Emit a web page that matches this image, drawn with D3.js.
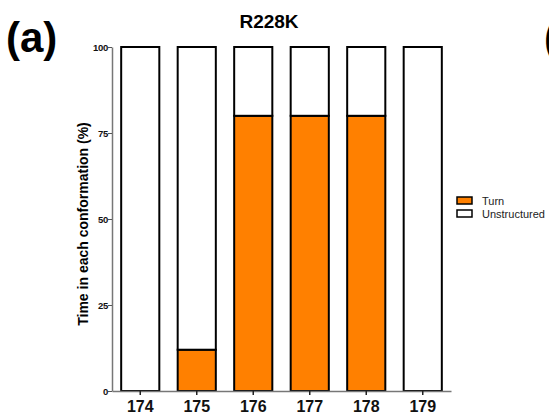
<!DOCTYPE html>
<html>
<head>
<meta charset="utf-8">
<script src="https://cdn.jsdelivr.net/npm/d3@7"></script>
<style>
  body { margin: 0; background: #fff; }
  svg { font-family: Arial, "Liberation Sans", sans-serif; }
</style>
</head>
<body>
<script>
// 数据
const residues = ["174", "175", "176", "177", "178", "179"];
const turn = [0, 12, 80, 80, 80, 0];
const unstructured = [100, 88, 20, 20, 20, 100];
const seriesNames = ["Turn", "Unstructured"];
const seriesColors = ["#FF8000", "#FFFFFF"];
const yTicks = [0, 25, 50, 75, 100];

const width = 549, height = 414;
const margin = { top: 47, right: 99, bottom: 23, left: 112 };

const svg = d3.select("body").append("svg").attr("width", width).attr("height", height);

const x = d3.scaleBand().domain(residues)
    .range([margin.left, 451])
    .paddingInner(0.325).paddingOuter(0.1625);
const y = d3.scaleLinear().domain([0, 100]).range([height - margin.bottom, margin.top]);

const rows = residues.map((r, i) => ({ name: r, Turn: turn[i], Unstructured: unstructured[i] }));
const stacked = d3.stack().keys(seriesNames)(rows);
const color = d3.scaleOrdinal().domain(seriesNames).range(seriesColors);

// 柱子
svg.append("g").selectAll("g").data(stacked).join("g")
    .attr("fill", d => color(d.key))
    .selectAll("rect").data(d => d.filter(v => v[1] - v[0] > 0)).join("rect")
    .attr("x", d => x(d.data.name))
    .attr("y", d => y(d[1]))
    .attr("width", x.bandwidth())
    .attr("height", d => y(d[0]) - y(d[1]))
    .attr("stroke", "#000")
    .attr("stroke-width", 2);

// x轴
const gx = svg.append("g").attr("transform", `translate(0,${y(0)})`)
    .call(d3.axisBottom(x).tickSize(4).tickSizeOuter(0));
gx.select(".domain").attr("stroke", "#777").attr("stroke-width", 1.5);
gx.selectAll(".tick line").attr("stroke", "#222").attr("stroke-width", 1.5);
gx.selectAll(".tick text").attr("font-size", 16).attr("font-weight", "bold").attr("fill", "#111").attr("dy", "0.85em");

// y轴
const gy = svg.append("g").attr("transform", `translate(${margin.left},0)`)
    .call(d3.axisLeft(y).tickValues(yTicks).tickSize(4).tickSizeOuter(0));
gy.select(".domain").attr("stroke", "#777").attr("stroke-width", 1.5);
gy.selectAll(".tick line").attr("stroke", "#555").attr("stroke-width", 1);
gy.selectAll(".tick text").attr("font-size", 9.5).attr("font-weight", "bold").attr("fill", "#111").attr("x", -4)
    .attr("letter-spacing", -0.3);

// y轴标题
svg.append("text")
    .attr("transform", `translate(88,${(y(0) + y(100)) / 2 + 5}) rotate(-90)`)
    .attr("text-anchor", "middle")
    .attr("font-size", 14).attr("font-weight", "bold")
    .text("Time in each conformation (%)");

// 标题
svg.append("text").attr("x", 269).attr("y", 28).attr("text-anchor", "middle")
    .attr("font-size", 19).attr("font-weight", "bold").text("R228K");
svg.append("text").attr("x", 6).attr("y", 52)
    .attr("font-size", 42).attr("font-weight", "bold").text("(a)");
svg.append("text").attr("x", 544).attr("y", 52)
    .attr("font-size", 42).attr("font-weight", "bold").text("(");

// 图例
const legend = svg.append("g").attr("transform", "translate(457,197)");
const item = legend.selectAll("g").data(seriesNames).join("g")
    .attr("transform", (d, i) => `translate(0,${i * 13})`);
item.append("rect").attr("width", 15).attr("height", 7)
    .attr("fill", d => color(d)).attr("stroke", "#000").attr("stroke-width", 1.5);
item.append("text").attr("x", 25).attr("y", 7.5).attr("font-size", 11).attr("fill", "#222").text(d => d);
</script>
</body>
</html>
